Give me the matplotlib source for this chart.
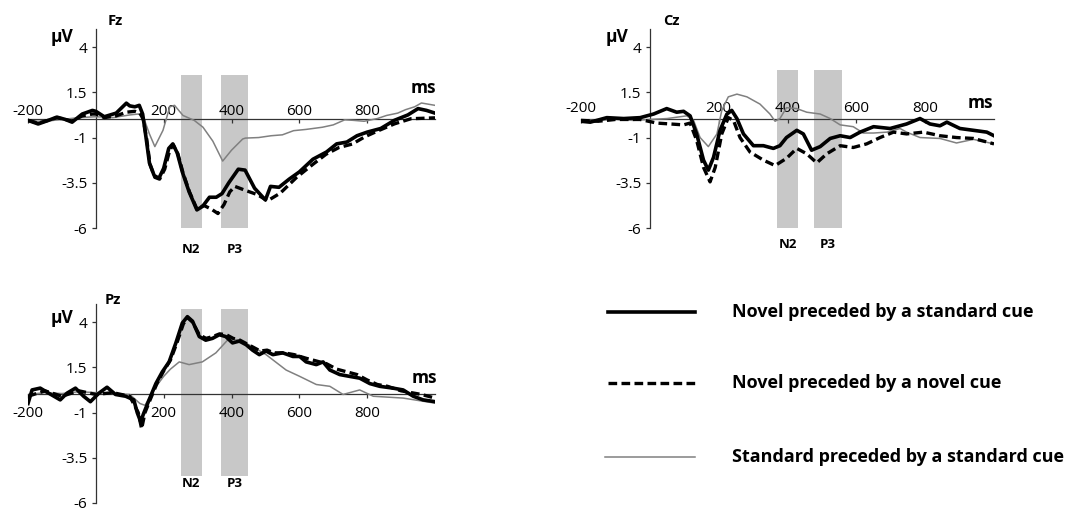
import matplotlib
matplotlib.use("Agg")
import matplotlib.pyplot as plt

plt.rcParams["font.family"] = ["Open Sans", "DejaVu Sans"]
plt.rcParams["axes.unicode_minus"] = False

# ---- Fz ----
fz_solid_t = [-200, -170, -140, -115, -90, -70, -40, -10, 0, 25, 60, 90, 100, 115, 128, 138, 148, 158, 172,
              186, 200, 215, 227, 240, 255, 275, 298, 315, 335, 355, 372, 392, 420, 440, 468, 500, 515, 540,
              570, 600, 640, 680, 710, 740, 770, 800, 840, 880, 920, 950, 975, 1000]
fz_solid_v = [-0.05, -0.25, -0.05, 0.13, 0.0, -0.15, 0.3, 0.5, 0.45, 0.15, 0.35, 0.9, 0.75, 0.7, 0.78, 0.3,
              -1.0, -2.4, -3.1, -3.25, -2.7, -1.6, -1.35, -1.85, -2.9, -4.0, -5.0, -4.8, -4.3, -4.3, -4.1,
              -3.5, -2.75, -2.8, -3.8, -4.45, -3.7, -3.75, -3.3, -2.9, -2.2, -1.8, -1.35, -1.25, -0.9, -0.7,
              -0.5, -0.05, 0.25, 0.6, 0.5, 0.35]
fz_dash_t = [-200, -170, -140, -115, -90, -70, -40, -10, 0, 25, 60, 90, 115, 130, 140, 150, 160, 174, 188,
             203, 218, 228, 242, 257, 276, 298, 318, 340, 360, 378, 395, 410, 438, 477, 506, 544, 592, 640,
             679, 717, 756, 794, 833, 881, 929, 1000]
fz_dash_v = [-0.05, -0.2, -0.05, 0.1, 0.0, -0.1, 0.2, 0.3, 0.3, 0.1, 0.2, 0.4, 0.45, 0.35, 0.0, -1.1, -2.5,
             -3.2, -3.3, -2.75, -1.7, -1.4, -1.9, -2.95, -4.0, -4.95, -4.75, -4.95, -5.2, -4.7, -4.0, -3.7,
             -3.9, -4.16, -4.5, -4.07, -3.2, -2.48, -1.92, -1.55, -1.36, -0.95, -0.62, -0.24, 0.04, 0.09]
fz_std_t = [-200, -150, -100, -50, 0, 50, 100, 125, 139, 158, 174, 198, 218, 232, 257, 290, 316, 345, 374,
            400, 433, 441, 480, 517, 550, 583, 620, 668, 700, 734, 760, 791, 830, 857, 890, 913, 940, 960, 1000]
fz_std_v = [-0.1, -0.1, 0.0, 0.1, 0.15, 0.1, 0.25, 0.3, 0.2, -0.8, -1.5, -0.6, 0.7, 0.78, 0.22, -0.05,
            -0.43, -1.2, -2.3, -1.7, -1.08, -1.03, -1.0, -0.9, -0.85, -0.62, -0.55, -0.43, -0.3, -0.02,
            -0.05, -0.1, 0.05, 0.22, 0.35, 0.54, 0.7, 0.91, 0.78]

# ---- Cz ----
cz_solid_t = [-200, -173, -125, -76, -28, 11, 49, 78, 98, 117, 136, 156, 170, 185, 204, 224, 238, 253, 272,
              301, 330, 359, 378, 397, 427, 446, 470, 495, 524, 553, 582, 611, 650, 698, 746, 785, 814, 843,
              863, 901, 940, 979, 1000]
cz_solid_v = [-0.1, -0.15, 0.1, 0.05, 0.1, 0.3, 0.6, 0.4, 0.45, 0.2, -0.8, -2.25, -2.8, -2.1, -0.6, 0.3,
              0.5, 0.05, -0.8, -1.45, -1.45, -1.6, -1.45, -1.0, -0.6, -0.8, -1.7, -1.5, -1.05, -0.9, -1.0,
              -0.7, -0.4, -0.5, -0.25, 0.05, -0.25, -0.35, -0.15, -0.5, -0.6, -0.7, -0.9]
cz_dash_t = [-200, -150, -100, -28, 20, 60, 98, 117, 136, 156, 175, 190, 209, 228, 243, 262, 291, 330, 364,
             397, 427, 456, 485, 514, 553, 591, 630, 669, 708, 746, 795, 843, 891, 940, 1000]
cz_dash_v = [-0.05, -0.1, 0.0, 0.0, -0.2, -0.25, -0.3, -0.2, -1.15, -2.65, -3.45, -2.65, -0.8, 0.1, -0.05,
             -1.0, -1.8, -2.25, -2.55, -2.15, -1.6, -1.9, -2.4, -1.9, -1.45, -1.55, -1.35, -1.0, -0.7, -0.8,
             -0.7, -0.9, -1.0, -1.05, -1.35]
cz_std_t = [-200, -150, -100, -50, 0, 50, 107, 127, 146, 170, 195, 209, 228, 253, 282, 320, 349, 364, 378,
            397, 427, 456, 495, 524, 553, 591, 620, 650, 689, 727, 746, 785, 843, 891, 940, 1000]
cz_std_v = [-0.05, -0.05, 0.0, -0.05, 0.0, 0.05, 0.2, -0.05, -1.0, -1.5, -0.8, 0.5, 1.25, 1.4, 1.25, 0.85,
            0.3, -0.1, 0.05, 0.65, 0.6, 0.4, 0.3, 0.05, -0.3, -0.4, -0.75, -0.75, -0.7, -0.5, -0.7, -1.0,
            -1.05, -1.3, -1.1, -1.35]

# ---- Pz ----
pz_solid_t = [-200, -188, -164, -139, -105, -85, -60, -36, -16, 9, 33, 58, 88, 112, 122, 132, 142, 157, 177,
              196, 216, 236, 255, 270, 285, 305, 324, 344, 364, 383, 403, 423, 443, 462, 482, 502, 522, 551,
              581, 601, 620, 650, 670, 690, 719, 748, 778, 808, 837, 876, 906, 936, 965, 1000]
pz_solid_v = [-0.5, 0.25, 0.35, 0.07, -0.3, 0.07, 0.35, -0.1, -0.4, 0.07, 0.4, 0.0, -0.1, -0.3, -1.0, -1.5,
              -1.0, -0.3, 0.6, 1.25, 1.8, 2.85, 3.95, 4.3, 4.05, 3.2, 3.0, 3.1, 3.3, 3.2, 2.85, 2.95, 2.75,
              2.45, 2.2, 2.4, 2.2, 2.3, 2.1, 2.1, 1.8, 1.65, 1.8, 1.35, 1.1, 1.0, 0.9, 0.6, 0.45, 0.35, 0.25,
              -0.1, -0.3, -0.4]
pz_dash_t = [-200, -150, -100, -50, 0, 50, 100, 125, 135, 145, 160, 180, 200, 220, 240, 258, 270, 285, 305,
             325, 345, 365, 385, 405, 425, 445, 465, 485, 505, 525, 555, 585, 620, 650, 680, 710, 740, 770,
             800, 830, 860, 900, 930, 960, 1000]
pz_dash_v = [-0.1, 0.2, -0.1, 0.2, 0.0, 0.1, -0.1, -1.0, -1.9, -1.0, -0.3, 0.6, 1.3, 1.9, 2.9, 3.9, 4.25,
             4.0, 3.3, 3.1, 3.2, 3.35, 3.3, 3.1, 3.0, 2.8, 2.6, 2.4, 2.45, 2.3, 2.3, 2.2, 2.0, 1.85, 1.7,
             1.4, 1.25, 1.1, 0.8, 0.55, 0.45, 0.2, 0.1, 0.0, -0.2]
pz_std_t = [-200, -150, -100, -50, 0, 50, 100, 130, 145, 160, 180, 200, 220, 246, 275, 314, 354, 393, 423,
            462, 502, 561, 601, 650, 690, 729, 778, 818, 906, 1000]
pz_std_v = [0.0, 0.1, 0.05, 0.15, 0.1, 0.05, 0.0, -0.5, -0.6, -0.1, 0.5, 1.0, 1.4, 1.8, 1.65, 1.8, 2.3,
            3.1, 3.0, 2.65, 2.2, 1.35, 1.0, 0.55, 0.45, 0.0, 0.25, -0.1, -0.2, -0.48]

# analysis windows (ms)
fz_windows = [(250, 312), (370, 448)]
cz_windows = [(370, 430), (478, 558)]
pz_windows = [(250, 312), (369, 448)]
window_names = ["N2", "P3"]

xticks = [-200, 200, 400, 600, 800]
yticks = [4, 1.5, -1, -3.5, -6]
ytick_labels = ["4", "1.5", "-1", "-3.5", "-6"]

W, H = 1072, 512
fig = plt.figure(figsize=(W / 100, H / 100), dpi=100)


def px_axes(x0, x1, y_top, y_bot):
    return fig.add_axes([x0 / W, 1 - y_bot / H, (x1 - x0) / W, (y_bot - y_top) / H])


def panel(ax, name, solid, dash, std, windows, win_y, lab_y, tick_pad, ms_pos, name_pos, uv_pos):
    ax.set_xlim(-200, 1000)
    ax.set_ylim(-6, 5)
    for (a, b) in windows:
        ax.bar((a + b) / 2, win_y[1] - win_y[0], width=b - a, bottom=win_y[0],
               color="#c8c8c8", zorder=1)
    for (a, b), lab in zip(windows, window_names):
        ax.text((a + b) / 2, lab_y, lab, ha="center", va="center", fontsize=9.5,
                fontweight="bold", clip_on=False)
    ax.plot(*std, color="#808080", lw=1.1, zorder=3)
    ax.plot(*dash, color="black", lw=2.4, ls=(0, (2.6, 1.3)), zorder=4)
    ax.plot(*solid, color="black", lw=2.6, zorder=5)
    for s in ["top", "right"]:
        ax.spines[s].set_visible(False)
    ax.spines["left"].set_position(("data", 0))
    ax.spines["bottom"].set_position(("data", 0))
    for s in ["left", "bottom"]:
        ax.spines[s].set_linewidth(0.9)
        ax.spines[s].set_color("#333333")
    ax.set_xticks(xticks)
    ax.set_yticks(yticks)
    ax.set_yticklabels(ytick_labels)
    ax.tick_params(axis="y", length=3, width=0.9, color="#333333", labelsize=11, pad=3)
    ax.tick_params(axis="x", length=3, width=0.9, color="#333333", labelsize=11, pad=tick_pad)
    ax.patch.set_visible(False)
    ax.text(*ms_pos, "ms", fontsize=12.5, fontweight="bold", ha="center", va="center", clip_on=False)
    ax.text(*name_pos, name, fontsize=10.5, fontweight="bold", ha="center", va="center", clip_on=False)
    ax.text(*uv_pos, "µV", fontsize=12.5, fontweight="bold", ha="center", va="center", clip_on=False)


ax_fz = px_axes(28, 435, 29, 228)
panel(ax_fz, "Fz", (fz_solid_t, fz_solid_v), (fz_dash_t, fz_dash_v), (fz_std_t, fz_std_v),
      fz_windows, (-6.7, 2.45), -7.2, -14, (965, 1.74), (57, 5.44), (-100, 4.56))

ax_cz = px_axes(581, 994, 29, 228)
panel(ax_cz, "Cz", (cz_solid_t, cz_solid_v), (cz_dash_t, cz_dash_v), (cz_std_t, cz_std_v),
      cz_windows, (-6.4, 2.76), -6.93, -16.5, (960, 0.9), (62, 5.44), (-95, 4.56))

ax_pz = px_axes(28, 435, 304, 503)
panel(ax_pz, "Pz", (pz_solid_t, pz_solid_v), (pz_dash_t, pz_dash_v), (pz_std_t, pz_std_v),
      pz_windows, (-4.48, 4.73), -4.9, 5, (968, 0.91), (50, 5.22), (-100, 4.23))

# legend drawn in figure pixel coordinates
leg = fig.add_axes([0, 0, 1, 1])
leg.set_xlim(0, W)
leg.set_ylim(H, 0)
leg.axis("off")
leg.plot([608, 695], [312, 312], color="black", lw=2.6)
leg.plot([608, 695], [383, 383], color="black", lw=2.4, ls=(0, (2.6, 1.3)))
leg.plot([605, 695], [457, 457], color="#808080", lw=1.1)
leg.text(732, 312, "Novel preceded by a standard cue", fontsize=13, fontweight="bold", va="center")
leg.text(732, 383, "Novel preceded by a novel cue", fontsize=13, fontweight="bold", va="center")
leg.text(732, 457, "Standard preceded by a standard cue", fontsize=13, fontweight="bold", va="center")

fig.savefig("out.png", dpi=100)
